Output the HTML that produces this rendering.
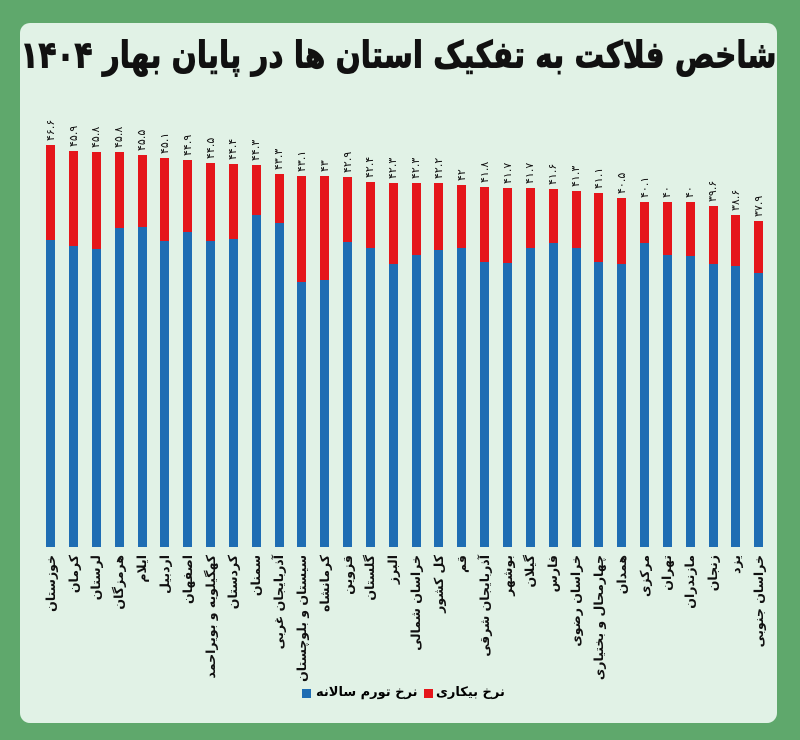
<!DOCTYPE html>
<html><head><meta charset="utf-8">
<style>
html,body{margin:0;padding:0}
body{width:800px;height:740px;background:#5fa86c;position:relative;overflow:hidden;font-family:"DejaVu Sans","Liberation Sans",sans-serif}
.panel{position:absolute;left:20px;top:23px;width:757px;height:700px;background:#e1f2e6;border-radius:10px}
.title{position:absolute;left:20px;top:30px;width:757px;text-align:center;direction:rtl;font-weight:bold;font-size:29.5px;color:#111;white-space:nowrap;line-height:50px;transform:scaleY(1.25);-webkit-text-stroke:0.8px #111}
.bar{position:absolute;width:9px}
.r{background:#e5161b}.b{background:#1e6db3}
.v{position:absolute;font-size:11px;color:#111;white-space:nowrap;transform-origin:0 0;transform:rotate(-90deg) translate(0,-50%);line-height:12px}
.n{position:absolute;font-size:12.5px;font-weight:bold;color:#111;white-space:nowrap;direction:rtl;transform-origin:0 0;transform:rotate(-90deg) translate(-100%,-50%);line-height:14px}
.lg{position:absolute;top:685px;font-size:13px;font-weight:bold;direction:rtl;white-space:nowrap;line-height:16px}
.sq{position:absolute;width:9px;height:9px;top:689px}
</style></head><body>
<div class="panel"></div>
<div class="title">شاخص فلاکت به تفکیک استان ها در پایان بهار ۱۴۰۴</div>
<div id="c"></div>
<div class="sq b" style="left:302px"></div>
<div class="lg" style="left:316px">نرخ تورم سالانه</div>
<div class="sq r" style="left:424px"></div>
<div class="lg" style="left:436px">نرخ بیکاری</div>
<script>
var d=[
["خوزستان","۴۶.۶",144.7,240],["کرمان","۴۵.۹",150.7,246],["لرستان","۴۵.۸",152,249],["هرمزگان","۴۵.۸",152,227.7],
["ایلام","۴۵.۵",154.7,226.7],["اردبیل","۴۵.۱",158,241],["اصفهان","۴۴.۹",160,232],["کهگیلویه و بویراحمد","۴۴.۵",162.7,241],
["کردستان","۴۴.۴",164,238.7],["سمنان","۴۴.۳",164.7,214.7],["آذربایجان غربی","۴۳.۳",174,222.7],["سیستان و بلوچستان","۴۳.۱",176,282],
["کرمانشاه","۴۳",176,280],["قزوین","۴۲.۹",177,242],["گلستان","۴۲.۴",182,248],["البرز","۴۲.۳",182.7,264],
["خراسان شمالی","۴۲.۳",183.3,255.3],["کل کشور","۴۲.۲",182.7,250],["قم","۴۲",184.7,248.3],["آذربایجان شرقی","۴۱.۸",186.7,261.7],
["بوشهر","۴۱.۷",188.3,263.3],["گیلان","۴۱.۷",188.3,248.3],["فارس","۴۱.۶",189.3,242.7],["خراسان رضوی","۴۱.۳",191.3,247.7],
["چهارمحال و بختیاری","۴۱.۱",193.3,261.7],["همدان","۴۰.۵",198.3,264],["مرکزی","۴۰.۱",202,243.3],["تهران","۴۰",202,255],
["مازندران","۴۰",202,256],["زنجان","۳۹.۶",206,264],["یزد","۳۸.۶",215,266],["خراسان جنوبی","۳۷.۹",221,272.7]];
var h="",bot=547;
d.forEach(function(e,i){
var cx=50.7+i*22.84,l=cx-4.5;
h+='<div class="bar r" style="left:'+l+'px;top:'+e[2]+'px;height:'+(e[3]-e[2])+'px"></div>';
h+='<div class="bar b" style="left:'+l+'px;top:'+e[3]+'px;height:'+(bot-e[3])+'px"></div>';
h+='<div class="v" style="left:'+cx+'px;top:'+(e[2]-4)+'px">'+e[1]+'</div>';
h+='<div class="n" style="left:'+cx+'px;top:555px">'+e[0]+'</div>';
});
document.getElementById("c").innerHTML=h;
</script>
</body></html>
